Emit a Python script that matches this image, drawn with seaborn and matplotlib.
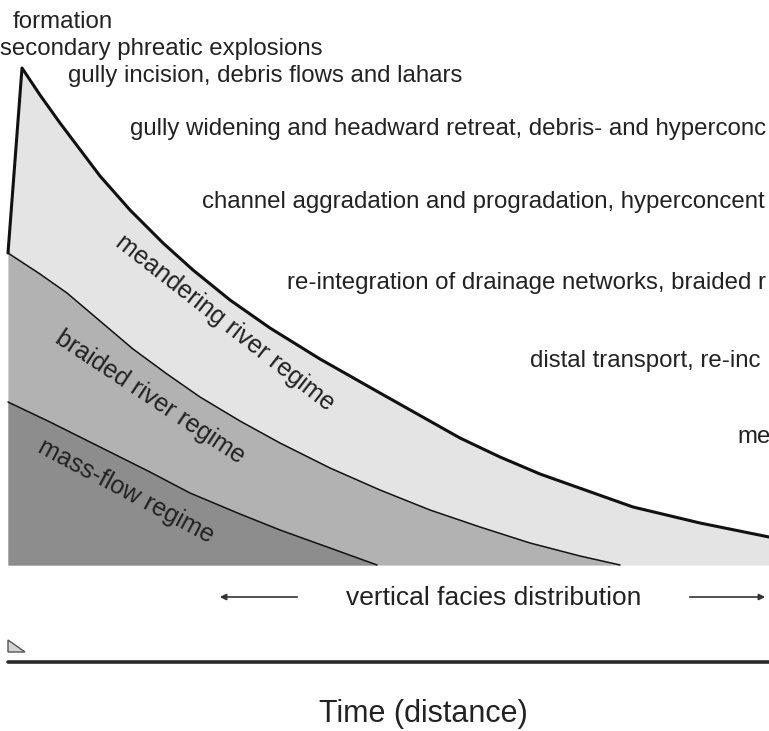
import matplotlib.pyplot as plt
import pandas as pd
import seaborn as sns

# section: x = time (distance), h = height above the base
outer_x = [8, 22, 40, 60, 100, 130, 163, 193, 230, 270, 320, 380, 460, 500, 540, 633, 700, 769]
outer_h = [312, 497, 470, 442, 389, 355, 322, 295, 265, 237, 206, 172, 127, 108, 91, 58, 42, 28]

braided_x = [8, 40, 67, 100, 133, 167, 200, 240, 280, 330, 380, 430, 480, 530, 580, 620]
braided_h = [312, 291, 272, 244, 216, 191, 168, 144, 122, 97, 75, 55, 38, 22, 9, 0]

massflow_x = [8, 50, 100, 150, 190, 240, 280, 330, 377]
massflow_h = [163, 143, 118, 93, 72, 51, 35, 17, 0]

regime_labels = ["meandering river regime", "braided river regime", "mass-flow regime"]
# the source figure is cropped, so only the visible part of each label is kept
process_labels = [
    "formation",
    "secondary phreatic explosions",
    "gully incision, debris flows and lahars",
    "gully widening and headward retreat, debris- and hyperconc",
    "channel aggradation and progradation, hyperconcent",
    "re-integration of drainage networks, braided r",
    "distal transport, re-inc",
    "me",
]
facies_label = "vertical facies distribution"
xlabel = "Time (distance)"

LIGHT, MID, DARK = "#e4e4e4", "#b2b2b2", "#8d8d8d"
TXT = "#222222"
BASE = 565  # pixel row of the section base

sns.set_theme(style="white")
plt.rcParams["font.family"] = ["Liberation Sans", "DejaVu Sans"]

fig = plt.figure(figsize=(7.69, 7.31), dpi=100)
ax = fig.add_axes([0, 0, 1, 1])
ax.set_xlim(0, 769)
ax.set_ylim(BASE - 731, BASE)
ax.axis("off")

layers = [
    (outer_x, outer_h, LIGHT, 2.2),
    (braided_x, braided_h, MID, 1.1),
    (massflow_x, massflow_h, DARK, 1.1),
]
for xs, hs, colour, lw in layers:
    frame = pd.DataFrame({"time": xs, "height": hs})
    ax.fill_between(frame["time"], frame["height"], 0, color=colour, lw=0)
    sns.lineplot(data=frame, x="time", y="height", ax=ax, color="#111111",
                 linewidth=lw, estimator=None, sort=False)


def put(x, y_px, s, **kw):
    ax.text(x, BASE - y_px, s, color=TXT, **kw)


# process labels, stepping down to the right
label_pos = [(13, 28), (0, 55), (68, 82), (130, 135), (202, 208),
             (287, 289), (530, 367), (737, 443)]
for (x, y), s in zip(label_pos, process_labels):
    put(x, y, s, fontsize=17.3, ha="left", va="baseline")

# regime labels along the layers
regime_pos = [(225, 323, -38), (150, 397, -33.5), (126, 491, -28)]
for (x, y, rot), s in zip(regime_pos, regime_labels):
    put(x, y, s, fontsize=18, ha="center", va="center",
        rotation=rot, rotation_mode="anchor")

# facies arrows
put(494, 605, facies_label, fontsize=19, ha="center", va="baseline")
arrow = dict(arrowstyle="-|>", color="#333333", lw=1.2, mutation_scale=9)
ax.annotate("", xy=(217, BASE - 597), xytext=(300, BASE - 597), arrowprops=arrow)
ax.annotate("", xy=(768, BASE - 597), xytext=(687, BASE - 597), arrowprops=arrow)

# time axis
ax.axhline(BASE - 662, xmin=8 / 769, xmax=1, color="#2a2a2a", lw=2.6)
ax.fill([8, 25, 8], [BASE - 640, BASE - 652, BASE - 652],
        facecolor="#d4d4d4", edgecolor="#555555", lw=1)
put(423, 714, xlabel, fontsize=22, ha="center", va="center")

fig.savefig("out.png", dpi=100)
